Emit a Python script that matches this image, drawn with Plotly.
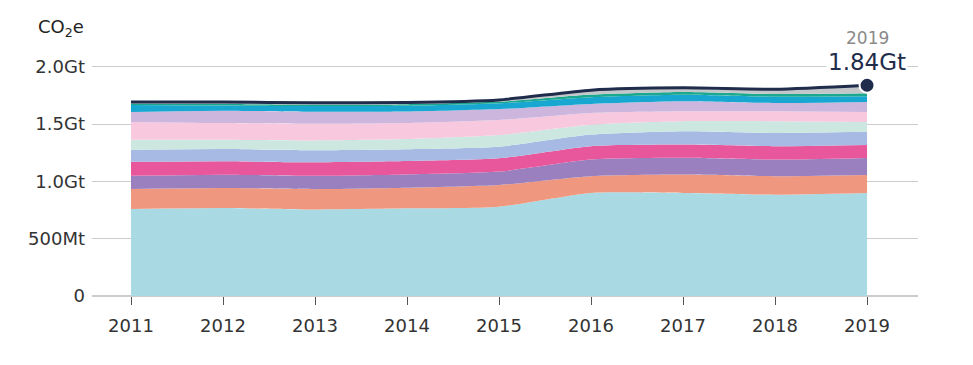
import plotly.graph_objects as go

years = [2011, 2012, 2013, 2014, 2015, 2016, 2017, 2018, 2019]

# Stacked layers, bottom to top (Gt CO2e)
layer_names = ["s1", "s2", "s3", "s4", "s5", "s6", "s7", "s8", "s9", "s10", "s11"]
s1 = [0.760, 0.768, 0.755, 0.765, 0.780, 0.900, 0.900, 0.885, 0.900]
s2 = [0.175, 0.175, 0.178, 0.180, 0.189, 0.146, 0.160, 0.161, 0.157]
s3 = [0.114, 0.116, 0.116, 0.116, 0.117, 0.145, 0.146, 0.145, 0.148]
s4 = [0.122, 0.117, 0.118, 0.117, 0.116, 0.117, 0.116, 0.117, 0.114]
s5 = [0.105, 0.107, 0.106, 0.104, 0.102, 0.101, 0.117, 0.116, 0.114]
s6 = [0.087, 0.081, 0.085, 0.088, 0.101, 0.087, 0.087, 0.102, 0.087]
s7 = [0.157, 0.146, 0.145, 0.140, 0.131, 0.102, 0.087, 0.087, 0.087]
s8 = [0.087, 0.107, 0.105, 0.100, 0.096, 0.079, 0.087, 0.072, 0.087]
s9 = [0.061, 0.047, 0.050, 0.050, 0.050, 0.059, 0.058, 0.055, 0.050]
s10 = [0.012, 0.012, 0.013, 0.014, 0.015, 0.023, 0.024, 0.024, 0.026]
s11 = [0.013, 0.017, 0.016, 0.015, 0.015, 0.038, 0.035, 0.041, 0.070]
layers = [s1, s2, s3, s4, s5, s6, s7, s8, s9, s10, s11]
colors = ["#a9d9e3", "#f0977f", "#9a80bf", "#e8579b", "#a6bae3", "#cbe7e0",
          "#f8c8de", "#cdb6de", "#17a7d0", "#1ca88f", "#c4c7ca"]

y_tickvals = [0, 0.5, 1.0, 1.5, 2.0]
y_ticktext = ["0", "500Mt", "1.0Gt", "1.5Gt", "2.0Gt"]

navy = "#1f2c4c"
font_family = "DejaVu Sans"

fig = go.Figure()
for name, vals, col in zip(layer_names, layers, colors):
    fig.add_trace(go.Scatter(
        x=years, y=vals, name=name, stackgroup="one", mode="lines",
        line=dict(width=0, shape="spline", smoothing=0.6), fillcolor=col,
        hoverinfo="skip"))

totals = [sum(v) for v in zip(*layers)]
fig.add_trace(go.Scatter(x=years, y=totals, mode="lines",
                         line=dict(color=navy, width=3, shape="spline", smoothing=0.6),
                         hoverinfo="skip"))
fig.add_trace(go.Scatter(x=[years[-1]], y=[totals[-1]], mode="markers",
                         marker=dict(color=navy, size=15, line=dict(color="white", width=2)),
                         hoverinfo="skip", cliponaxis=False))

fig.add_annotation(x=years[-1], y=totals[-1], text=f"{totals[-1]:.2f}Gt", showarrow=False,
                   yshift=23, font=dict(size=23, color=navy, family=font_family),
                   bgcolor="white", borderpad=1)
fig.add_annotation(x=years[-1], y=totals[-1], text=str(years[-1]), showarrow=False,
                   yshift=47, font=dict(size=17, color="#8a8a8a", family=font_family))
fig.add_annotation(xref="paper", yref="paper", x=-0.007, y=1.063, xanchor="right", yanchor="middle",
                   text="CO<sub>2</sub>e", showarrow=False,
                   font=dict(size=18, color="#222222", family=font_family))

fig.update_layout(
    width=973, height=365,
    margin=dict(l=84, r=63, t=36, b=77),
    paper_bgcolor="white", plot_bgcolor="white",
    showlegend=False,
    font=dict(family=font_family, size=18, color="#333333"),
    xaxis=dict(range=[2010.576, 2019.554], tickvals=years, ticktext=[str(y) for y in years],
               showgrid=False, zeroline=False, showline=False,
               ticks="outside", ticklen=8, tickcolor="#555555", tickwidth=1,
               ticklabelstandoff=5,
               tickfont=dict(size=18, color="#333333")),
    yaxis=dict(range=[0, 2.2], tickvals=y_tickvals, ticktext=y_ticktext,
               showgrid=True, gridcolor="#cccccc", gridwidth=1,
               zeroline=True, zerolinecolor="#cccccc", zerolinewidth=2,
               showline=False, ticks="", ticklabelstandoff=6,
               tickfont=dict(size=18, color="#333333")),
)

fig.write_html("out.html")
